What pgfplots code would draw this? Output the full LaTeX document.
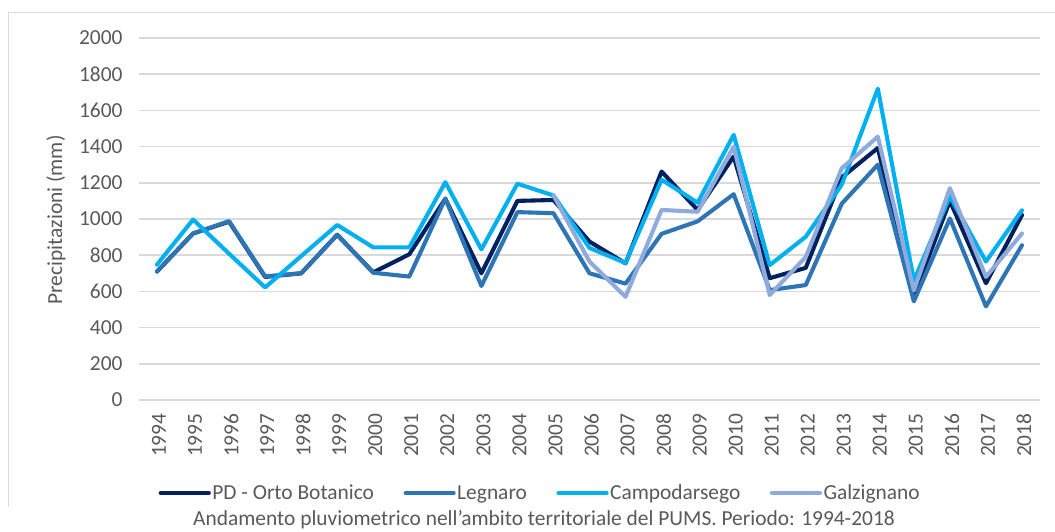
\documentclass[border=0pt]{standalone}
\usepackage{fontspec}
\setmainfont{Carlito}
\usepackage{pgfplots}
\pgfplotsset{compat=1.18}
\definecolor{pdc}{RGB}{0,32,96}
\definecolor{leg}{RGB}{46,117,182}
\definecolor{cam}{RGB}{0,176,240}
\definecolor{gal}{RGB}{143,170,220}
\definecolor{gridc}{RGB}{217,217,217}
\definecolor{txt}{RGB}{89,89,89}
\begin{document}
\begin{tikzpicture}
\useasboundingbox (0,0) rectangle (1055bp,532bp);
\draw[gridc, line width=1bp] (8bp,25bp) -- (8bp,519bp) -- (1056bp,519bp);
\begin{axis}[
  at={(139bp,132bp)}, anchor=south west,
  scale only axis, width=901bp, height=362bp,
  xmin=1993.5, xmax=2018.5, ymin=0, ymax=2000,
  xtick={1994,1995,...,2018}, ytick={0,200,...,2000},
  axis line style={draw=none},
  tick style={draw=none},
  ymajorgrids, major grid style={gridc, line width=1.5bp},
  /pgf/number format/assume math mode=true,
  /pgf/number format/1000 sep={},
  tick label style={font=\fontsize{21.5}{25}\selectfont, text=txt},
  xticklabel style={rotate=90, anchor=east, yshift=-2bp, xshift=-10bp},
  yticklabel style={xshift=-13bp},
  legend columns=-1,
  legend style={at={(0.445,-0.257)}, anchor=center, draw=none, fill=none,
    font=\fontsize{21.5}{25}\selectfont, text=txt,
    nodes={inner xsep=1.5bp},
    /tikz/every even column/.append style={column sep=28bp}},
  legend image code/.code={\draw[#1, line width=4.2bp] (0bp,0bp) -- (48bp,0bp);},
  every axis plot/.append style={line width=4.1bp, line join=round, line cap=round},
]
\addplot[pdc] coordinates {(1994,710) (1995,920) (1996,985) (1997,680) (1998,700) (1999,913) (2000,705) (2001,805) (2002,1112) (2003,700) (2004,1100) (2005,1105) (2006,875) (2007,755) (2008,1262) (2009,1050) (2010,1345) (2011,673) (2012,730) (2013,1230) (2014,1392) (2015,575) (2016,1100) (2017,645) (2018,1022)};
\addlegendentry{PD - Orto Botanico}
\addplot[leg] coordinates {(1994,710) (1995,920) (1996,988) (1997,683) (1998,700) (1999,912) (2000,703) (2001,682) (2002,1113) (2003,630) (2004,1038) (2005,1032) (2006,700) (2007,643) (2008,918) (2009,987) (2010,1137) (2011,607) (2012,635) (2013,1085) (2014,1300) (2015,545) (2016,1003) (2017,517) (2018,855)};
\addlegendentry{Legnaro}
\addplot[cam] coordinates {(1994,748) (1995,997) (1996,808) (1997,622) (1998,795) (1999,967) (2000,843) (2001,843) (2002,1203) (2003,832) (2004,1195) (2005,1130) (2006,840) (2007,757) (2008,1217) (2009,1090) (2010,1465) (2011,745) (2012,902) (2013,1190) (2014,1720) (2015,660) (2016,1125) (2017,765) (2018,1048)};
\addlegendentry{Campodarsego}
\addplot[gal] coordinates {(2005,1130) (2006,765) (2007,570) (2008,1050) (2009,1040) (2010,1400) (2011,580) (2012,790) (2013,1280) (2014,1455) (2015,605) (2016,1170) (2017,680) (2018,920)};
\addlegendentry{Galzignano}
\end{axis}
\node[rotate=90, text=txt, font=\fontsize{21.5}{25}\selectfont] at (56bp,312bp) {Precipitazioni (mm)};
\node[text=txt, font=\fontsize{21.5}{25}\selectfont] at (544bp,12bp) {Andamento pluviometrico nell’ambito territoriale del PUMS. Periodo: 1994-2018};
\end{tikzpicture}
\end{document}
